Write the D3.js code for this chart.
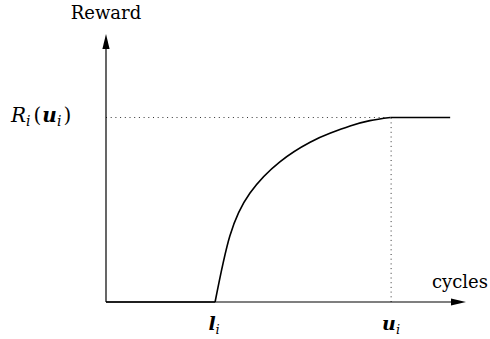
<!DOCTYPE html>
<html><head><meta charset="utf-8">
<script src="https://cdn.jsdelivr.net/npm/d3@7"></script>
<style>html,body{margin:0;padding:0;background:#fff;}svg{display:block;}</style>
</head><body>
<svg id="c" width="490" height="339"></svg>
<script>
// Data (abstract units: cycles 0..100, reward normalized so R_i(u_i)=1)
const curveCycles = [30.3, 34.4, 40.0, 48.3, 56.7, 62.2, 67.8, 73.3, 79.0];
const curveReward = [0, 0.358, 0.591, 0.760, 0.866, 0.914, 0.954, 0.983, 1];
const lowerBound = 30.3;   // l_i
const upperBound = 79.2;   // u_i
const rewardAtU = 1;       // R_i(u_i)
const plateauEnd = 95.6;
const xAxisMax = 100;
const yAxisMax = 1.453;

const FONT = "'DejaVu Serif', serif";
const svg = d3.select("#c");
const x = d3.scaleLinear().domain([0, xAxisMax]).range([106, 466]);
const y = d3.scaleLinear().domain([0, rewardAtU]).range([302, 117.5]);

// dotted guides
svg.append("line").attr("x1", x(0)).attr("x2", x(upperBound))
  .attr("y1", y(rewardAtU)).attr("y2", y(rewardAtU))
  .attr("stroke", "#333").attr("stroke-width", 1).attr("stroke-dasharray", "1,3.7");
svg.append("line").attr("x1", x(upperBound)).attr("x2", x(upperBound))
  .attr("y1", y(0)).attr("y2", y(rewardAtU))
  .attr("stroke", "#333").attr("stroke-width", 1).attr("stroke-dasharray", "1,3.7");

// axes
svg.append("line").attr("x1", x(0)).attr("x2", x(xAxisMax) - 10)
  .attr("y1", y(0)).attr("y2", y(0)).attr("stroke", "#000").attr("stroke-width", 1.2);
svg.append("line").attr("x1", x(0)).attr("x2", x(0))
  .attr("y1", y(0)).attr("y2", y(yAxisMax) + 10).attr("stroke", "#000").attr("stroke-width", 1.2);
// arrow heads
const xt = x(xAxisMax), yt = y(0);
svg.append("path").attr("d", `M${xt},${yt} L${xt-15},${yt-3.6} L${xt-15},${yt+3.6} Z`).attr("fill", "#000");
const ax = x(0), ay = y(yAxisMax);
svg.append("path").attr("d", `M${ax},${ay} L${ax-3.6},${ay+15} L${ax+3.6},${ay+15} Z`).attr("fill", "#000");

// reward curve: zero until l_i, rising curve to u_i, plateau after
const line = d3.line().x(d => x(d[0])).y(d => y(d[1]));
const pts = curveCycles.map((c, i) => [c, curveReward[i]]);
const stroke = p => p.attr("fill", "none").attr("stroke", "#000").attr("stroke-width", 1.6)
  .attr("stroke-linejoin", "round");
svg.append("path").datum([[0, 0], [lowerBound, 0]]).attr("d", line).call(stroke);
svg.append("path").datum(pts).attr("d", line.curve(d3.curveNatural)).call(stroke);
svg.append("path").datum([[curveCycles[curveCycles.length - 1], rewardAtU], [plateauEnd, rewardAtU]])
  .attr("d", d3.line().x(d => x(d[0])).y(d => y(d[1]))).call(stroke);

// labels
svg.append("text").attr("x", x(0)).attr("y", 19).attr("text-anchor", "middle")
  .attr("font-family", FONT).attr("font-size", 18).text("Reward");
svg.append("text").attr("x", 488).attr("y", 288).attr("text-anchor", "end")
  .attr("font-family", FONT).attr("font-size", 18).text("cycles");

const rl = svg.append("text").attr("x", 11).attr("y", 122).attr("font-family", FONT).attr("font-size", 20);
rl.append("tspan").attr("font-style", "italic").text("R");
rl.append("tspan").attr("font-style", "italic").attr("font-size", 14).attr("dy", 4).text("i");
rl.append("tspan").attr("dy", -4).attr("dx", 3).text("(");
rl.append("tspan").attr("font-style", "italic").attr("font-weight", "bold").attr("dx", 1).text("u");
rl.append("tspan").attr("font-style", "italic").attr("font-size", 14).attr("dy", 4).text("i");
rl.append("tspan").attr("dy", -4).attr("dx", 2).text(")");

function subLabel(cx, main) {
  const t = svg.append("text").attr("x", cx).attr("y", 330).attr("font-family", FONT)
    .attr("font-size", 19).attr("text-anchor", "middle");
  t.append("tspan").attr("font-style", "italic").attr("font-weight", "bold").text(main);
  t.append("tspan").attr("font-style", "italic").attr("font-size", 13).attr("dy", 4).text("i");
}
subLabel(x(lowerBound) - 1, "l");
subLabel(x(upperBound), "u");
</script>
</body></html>
